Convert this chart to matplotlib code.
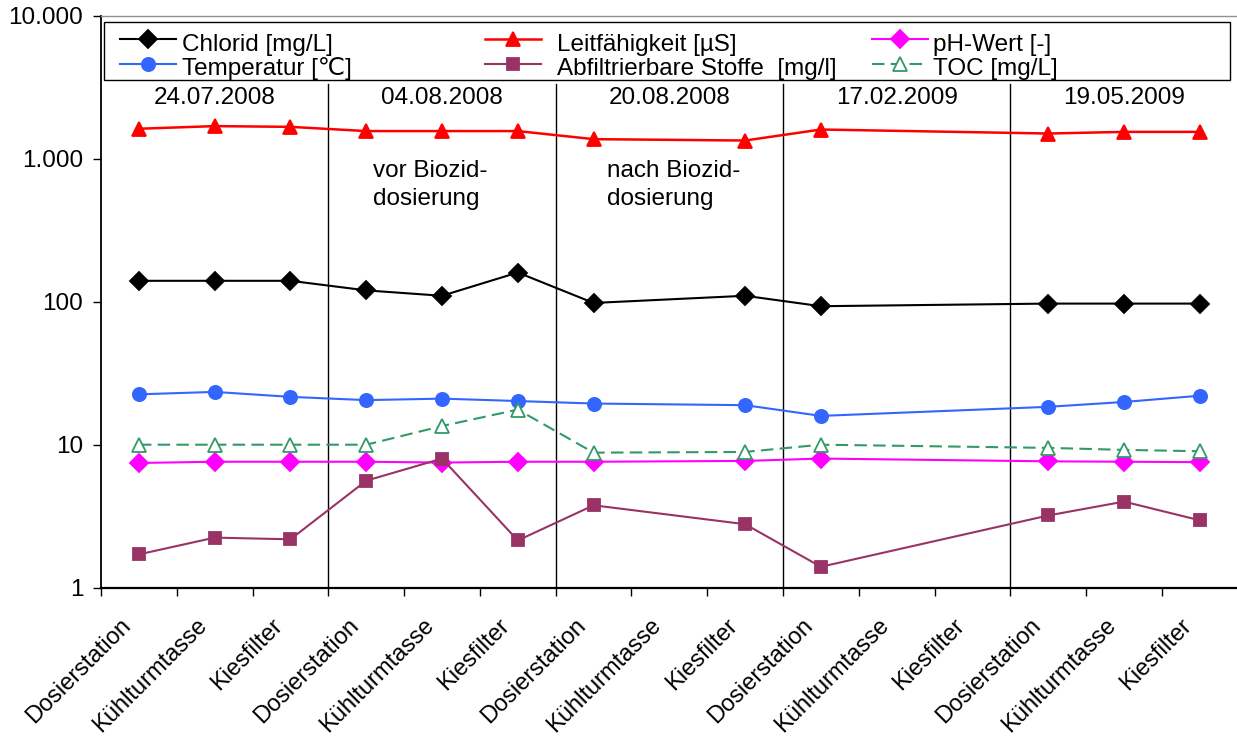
import numpy as np
import matplotlib
matplotlib.use('Agg')
import matplotlib.pyplot as plt
from matplotlib.lines import Line2D
from matplotlib.patches import Rectangle
from matplotlib.ticker import FixedLocator, FixedFormatter, NullFormatter
import matplotlib.transforms as mtransforms

FS = 17.5
plt.rcParams['font.family'] = ['Liberation Sans', 'DejaVu Sans']
plt.rcParams['font.size'] = FS

# ---------------- data ----------------
dates = ['24.07.2008', '04.08.2008', '20.08.2008', '17.02.2009', '19.05.2009']
stations = ['Dosierstation', 'Kühlturmtasse', 'Kiesfilter']
categories = [s for d in dates for s in stations]

nan = np.nan
chlorid = [140, 140, 140, 120, 110, 160, 98, nan, 110, 93, nan, nan, 97, 97, 97]
leitfaehigkeit = [1620, 1690, 1670, 1560, 1560, 1560, 1370, nan, 1340, 1600, nan, nan, 1500, 1540, 1540]
ph_wert = [7.45, 7.6, 7.6, 7.6, 7.5, 7.6, 7.6, nan, 7.7, 8.0, nan, nan, 7.65, 7.6, 7.55]
temperatur = [22.5, 23.4, 21.6, 20.5, 21.0, 20.2, 19.4, nan, 18.9, 15.9, nan, nan, 18.4, 19.9, 22.0]
abfiltrierbare = [1.71, 2.24, 2.18, 5.6, 8.0, 2.14, 3.77, nan, 2.78, 1.40, nan, nan, 3.2, 4.0, 2.96]
toc = [10, 10, 10, 10, 13.5, 17.6, 8.8, nan, 8.9, 10.0, nan, nan, 9.5, 9.2, 9.0]

y_ticks = [1, 10, 100, 1000, 10000]
y_tick_labels = ['1', '10', '100', '1.000', '10.000']

names = ['Chlorid [mg/L]', 'Leitfähigkeit [µS]', 'pH-Wert [-]',
         'Temperatur [℃]', 'Abfiltrierbare Stoffe  [mg/l]', 'TOC [mg/L]']
values = [chlorid, leitfaehigkeit, ph_wert, temperatur, abfiltrierbare, toc]

styles = [
    dict(color='black', marker='D', ms=9, lw=1.5, ls='-', mfc='black'),
    dict(color='#FF0000', marker='^', ms=10, lw=1.8, ls='-', mfc='#FF0000'),
    dict(color='#FF00FF', marker='D', ms=9, lw=1.5, ls='-', mfc='#FF00FF'),
    dict(color='#3366FF', marker='o', ms=9.5, lw=1.5, ls='-', mfc='#3366FF'),
    dict(color='#993366', marker='s', ms=9, lw=1.5, ls='-', mfc='#993366'),
    dict(color='#339966', marker='^', ms=10, lw=1.5, ls=(0, (6, 3)), mfc='white'),
]
zorders = [3, 3, 3, 3, 5, 4]

W, H = 1237, 738
fig = plt.figure(figsize=(W / 100, H / 100), dpi=100)

ax_left, ax_right, ax_top, ax_bottom = 101, 1237.7, 15.7, 587.7
ax = fig.add_axes([ax_left / W, 1 - ax_bottom / H,
                   (ax_right - ax_left) / W, (ax_bottom - ax_top) / H])

x = np.arange(len(categories)) + 0.5
for vals, st, name, z in zip(values, styles, names, zorders):
    v = np.asarray(vals, dtype=float)
    m = ~np.isnan(v)
    ax.plot(x[m], v[m], color=st['color'], marker=st['marker'], ms=st['ms'],
            lw=st['lw'], ls=st['ls'], mfc=st['mfc'], mec=st['color'],
            mew=1.3, label=name, zorder=z, clip_on=False)

ax.set_yscale('log')
ax.set_ylim(1, 10000)
ax.set_xlim(0, len(categories))
ax.yaxis.set_major_locator(FixedLocator(y_ticks))
ax.yaxis.set_major_formatter(FixedFormatter(y_tick_labels))
ax.yaxis.set_minor_locator(FixedLocator([]))
ax.tick_params(axis='y', which='major', direction='out', length=5.8, width=1,
               pad=7, labelsize=FS)

ax.xaxis.set_major_locator(FixedLocator(np.arange(0, len(categories) + 1)))
ax.xaxis.set_major_formatter(NullFormatter())
ax.xaxis.set_minor_locator(FixedLocator([]))
ax.tick_params(axis='x', which='major', direction='out', length=5.5, width=1)

# rotated category labels
offset = mtransforms.ScaledTranslation(-19 / 100, -27 / 100, fig.dpi_scale_trans)
lab_trans = ax.get_xaxis_transform() + offset
for xi, cat in zip(x, categories):
    ax.text(xi, 0, cat, transform=lab_trans, rotation=45, ha='right', va='top',
            rotation_mode='anchor', fontsize=17)

ax.spines['right'].set_visible(False)
ax.spines['top'].set_color('#909090')
ax.spines['top'].set_linewidth(1)
ax.spines['left'].set_linewidth(1.3)
ax.spines['bottom'].set_linewidth(1.6)

# group separators
ymax_frac = (ax_bottom - 84) / (ax_bottom - ax_top)
for b in range(3, len(categories), 3):
    ax.axvline(b, ymin=0, ymax=ymax_frac, color='black', lw=1, zorder=2)

# date labels
for i, d in enumerate(dates):
    xc_px = ax_left + (3 * i + 1.5) * (ax_right - ax_left) / len(categories)
    fig.text(xc_px / W, 1 - 98 / H, d, ha='center', va='center', fontsize=FS)

for xl, l1 in [(373, 'vor Biozid-'), (607, 'nach Biozid-')]:
    fig.text(xl / W, 1 - 177 / H, l1, ha='left', va='baseline', fontsize=FS)
    fig.text(xl / W, 1 - 205 / H, 'dosierung', ha='left', va='baseline', fontsize=FS)

# manual legend
fig.add_artist(Rectangle((103.5 / W, 1 - 80 / H), (1230 - 103.5) / W, (80 - 22.3) / H,
                         transform=fig.transFigure, facecolor='white',
                         edgecolor='black', lw=1, zorder=10))
col_x = [120, 485, 872]
text_gap = [62, 72, 61]
row_line_y = [39, 64]
row_base_y = [50.5, 75.5]
order = [(0, 0), (0, 1), (0, 2), (1, 0), (1, 1), (1, 2)]
for (r, c), name, st in zip(order, names, styles):
    x0 = col_x[c]
    x1 = x0 + 56
    yl = 1 - row_line_y[r] / H
    fig.add_artist(Line2D([x0 / W, (x0 + x1) / 2 / W, x1 / W], [yl, yl, yl],
                          transform=fig.transFigure, color=st['color'],
                          lw=st['lw'], ls=st['ls'], marker=st['marker'],
                          ms=st['ms'], mfc=st['mfc'], mec=st['color'], mew=1.3,
                          markevery=[1], zorder=11))
    fig.text((x0 + text_gap[c]) / W, 1 - row_base_y[r] / H, name, ha='left',
             va='baseline', fontsize=FS, zorder=11)

fig.savefig('out.png', dpi=100)
